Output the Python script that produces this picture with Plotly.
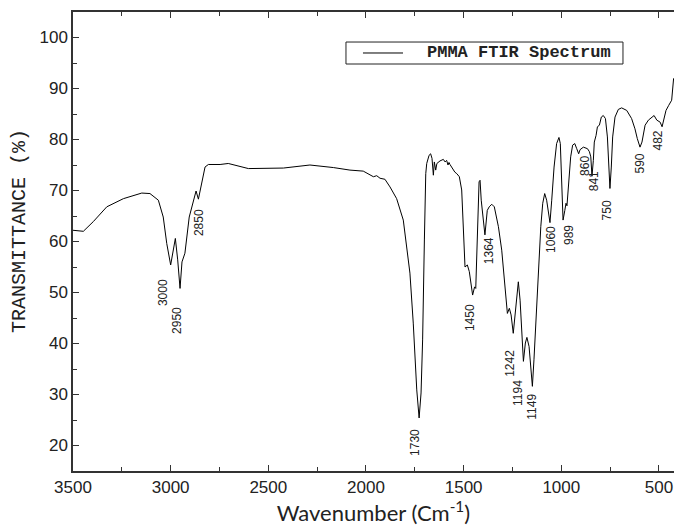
import plotly.graph_objects as go

# Spectrum (wavenumber cm^-1, transmittance %)
wavenumber = [3500, 3447, 3396, 3327, 3242, 3148, 3106, 3063, 3038, 3020, 3000, 2976, 2964, 2952,
              2942, 2927, 2905, 2875, 2870, 2858, 2841, 2824, 2807, 2747, 2705, 2602, 2423, 2287,
              2167, 2082, 2014, 1962, 1945, 1928, 1903, 1877, 1843, 1809, 1775, 1758, 1740, 1728,
              1718, 1710, 1701, 1694, 1689, 1677, 1669, 1662, 1655, 1650, 1643, 1637, 1621, 1604,
              1595, 1587, 1580, 1575, 1570, 1560, 1553, 1545, 1535, 1522, 1510, 1502, 1493, 1481,
              1471, 1454, 1444, 1438, 1430, 1421, 1416, 1410, 1391, 1379, 1369, 1356, 1343, 1322,
              1305, 1288, 1276, 1266, 1257, 1246, 1232, 1220, 1211, 1203, 1194, 1184, 1176, 1165,
              1157, 1148, 1140, 1129, 1118, 1105, 1095, 1085, 1075, 1065, 1058, 1049, 1037, 1024,
              1012, 1005, 998, 991, 982, 976, 971, 962, 952, 942, 931, 921, 911, 904, 887, 866,
              856, 849, 843, 836, 831, 822, 815, 805, 795, 785, 774, 764, 756, 751, 744, 737, 725,
              708, 691, 665, 640, 623, 611, 597, 587, 571, 554, 537, 525, 511, 494, 484, 474, 464,
              450, 435, 425]
transmittance = [62.2, 62.0, 63.9, 66.8, 68.4, 69.5, 69.4, 68.1, 64.8, 59.6, 55.4, 60.6, 56.4, 50.8,
                 56.0, 57.7, 64.8, 69.7, 69.9, 68.3, 71.4, 74.6, 75.1, 75.1, 75.3, 74.3, 74.4, 75.0,
                 74.5, 74.0, 73.8, 72.7, 72.9, 72.4, 72.2, 70.7, 68.4, 64.2, 53.8, 44.0, 30.9, 25.4,
                 30.3, 40.7, 60.3, 73.3, 75.3, 76.9, 77.2, 76.3, 73.0, 75.6, 74.0, 75.3, 75.8, 76.1,
                 75.6, 75.9, 75.0, 75.5, 75.1, 74.4, 74.0, 73.6, 73.3, 72.7, 70.1, 63.5, 55.0, 55.4,
                 54.1, 49.5, 51.1, 50.8, 60.3, 71.7, 72.0, 68.1, 61.3, 66.1, 66.8, 67.3, 66.8, 62.9,
                 58.3, 51.1, 45.9, 46.9, 45.6, 42.0, 47.2, 52.1, 48.5, 42.0, 36.5, 40.1, 41.2, 39.4,
                 35.5, 31.6, 36.8, 45.3, 55.0, 62.9, 67.5, 69.4, 68.1, 65.5, 63.7, 68.1, 74.6, 79.2,
                 80.4, 79.2, 71.4, 64.2, 66.1, 67.5, 67.0, 71.4, 76.6, 78.9, 79.2, 78.2, 77.2, 78.0,
                 78.5, 78.2, 77.6, 76.6, 72.8, 75.9, 79.5, 80.8, 82.5, 82.8, 84.4, 84.7, 84.1, 80.5,
                 74.6, 70.4, 74.6, 80.5, 84.4, 85.9, 86.2, 85.7, 84.1, 82.1, 80.2, 78.5, 79.5, 82.8,
                 83.8, 84.4, 84.7, 83.8, 83.4, 82.5, 84.1, 85.7, 86.7, 87.7, 92.0]

series_name = "PMMA FTIR Spectrum"

# Peak labels and where they sit (data coordinates)
peak_labels = ["3000", "2950", "2850", "1730", "1450", "1364", "1242", "1194", "1149",
               "1060", "989", "860", "841", "750", "590", "482"]
label_wn = [3039, 2968, 2855, 1749, 1467, 1370, 1263, 1222, 1150, 1053, 960, 879, 833, 766, 597, 505]
label_t = [49.9, 44.6, 63.8, 20.5, 45.0, 58.1, 36.2, 30.3, 27.6, 60.5, 61.3, 74.8, 71.8, 66.1, 75.3, 79.8]

x_ticks = [3500, 3000, 2500, 2000, 1500, 1000, 500]
y_ticks = [20, 30, 40, 50, 60, 70, 80, 90, 100]

fig = go.Figure()
fig.add_trace(go.Scatter(x=wavenumber, y=transmittance, mode="lines",
                         line=dict(color="black", width=1),
                         name=series_name, showlegend=False))

for lab, xw, yt in zip(peak_labels, label_wn, label_t):
    fig.add_annotation(x=xw, y=yt, text=lab, showarrow=False, textangle=-90,
                       font=dict(family="Liberation Sans, Arial", size=12, color="#222"))

# Framed legend (Origin style)
fig.add_shape(type="rect", xref="paper", yref="paper", x0=0.4542, x1=0.9151, y0=0.8867, y1=0.9346,
              line=dict(color="#222", width=1), fillcolor="white", layer="above")
fig.add_shape(type="line", xref="paper", yref="paper", x0=0.4825, x1=0.5491, y0=0.9107, y1=0.9107,
              line=dict(color="black", width=1), layer="above")
fig.add_annotation(xref="paper", yref="paper", x=0.5857, y=0.9107, xanchor="left", yanchor="middle",
                   text="<b>" + series_name + "</b>", showarrow=False,
                   font=dict(family="Liberation Mono, Courier New, monospace", size=17, color="#222"))

# Y axis title, placed like the reference
fig.add_annotation(xref="paper", yref="paper", x=-0.0882, y=0.5229, xanchor="center", yanchor="middle",
                   text="TRANSMITTANCE (%)", showarrow=False, textangle=-90,
                   font=dict(family="Liberation Mono, Courier New, monospace", size=20, color="#222"))

axis_common = dict(showgrid=False, zeroline=False, ticks="inside", ticklen=6, tickwidth=1,
                   tickcolor="#333", linecolor="#333", linewidth=1.5, showline=True,
                   tickfont=dict(family="Liberation Sans, Arial", size=17, color="#222"))

fig.update_layout(
    width=674, height=528,
    margin=dict(l=73, r=0, t=12, b=57),
    plot_bgcolor="white", paper_bgcolor="white",
    xaxis=dict(range=[3500, 423], tickvals=x_ticks, mirror="ticks",
               minor=dict(ticks="inside", ticklen=4, dtick=250, tickcolor="#333"),
               title=dict(text="Wavenumber (Cm<sup>-1</sup>)", standoff=4,
                          font=dict(family="Lato, Open Sans", size=22, color="#222")),
               **axis_common),
    yaxis=dict(range=[15, 105], tickvals=y_ticks,
               minor=dict(ticks="inside", ticklen=4, dtick=5, tickcolor="#333"),
               **axis_common),
    yaxis2=dict(range=[15, 105], overlaying="y", side="right", tickvals=y_ticks,
                ticks="inside", ticklen=6, tickcolor="#333", showticklabels=False,
                showline=False, showgrid=False, zeroline=False,
                minor=dict(ticks="inside", ticklen=4, dtick=5, tickcolor="#333")),
    showlegend=False,
)

fig.write_html("out.html", config={"displayModeBar": False},
               post_script="document.body.style.margin='0';document.body.style.overflow='hidden';")
